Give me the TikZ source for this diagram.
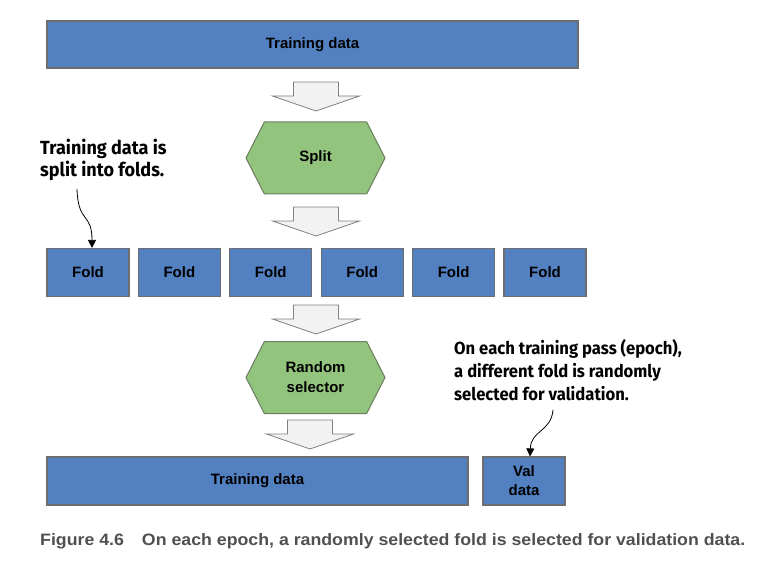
\documentclass[tikz,border=0pt]{standalone}
\usepackage{fontspec}
\setmainfont{Liberation Sans}
\newfontfamily\notefont{Fira Sans}[FakeStretch=0.95]
\newfontfamily\capfont{Liberation Sans}[FakeStretch=1.075]
\usetikzlibrary{shapes.symbols,arrows.meta}

\definecolor{boxblue}{RGB}{82,128,192}
\definecolor{boxedge}{RGB}{110,110,110}
\definecolor{hexgreen}{RGB}{147,196,125}
\definecolor{hexedge}{RGB}{105,125,95}
\definecolor{arrowgrey}{RGB}{242,242,242}
\definecolor{captiongrey}{RGB}{80,80,80}

% grey block arrow pointing down, #1 = coordinate at the centre of the shaft top
\newcommand{\downblock}[1]{%
  \draw[blockarrow] ([xshift=-22.5pt]#1) -- ++(0,14) -- ++(-21,0) -- ++(43.5,15)
    -- ++(43.5,-15) -- ++(-21,0) -- ++(0,-14) -- cycle;}

\begin{document}
\begin{tikzpicture}[x=1pt, y=-1pt,
  box/.style = {draw=boxedge, line width=1.2pt, fill=boxblue, inner sep=0pt,
    minimum height=48pt, align=center, font=\bfseries\fontsize{15}{19}\selectfont},
  hexa/.style = {shape=signal, signal to=east and west, signal pointer angle=126,
    draw=hexedge, line width=1pt, fill=hexgreen, inner sep=0pt,
    minimum width=139pt, minimum height=72pt, align=center,
    font=\bfseries\fontsize{15}{20}\selectfont},
  blockarrow/.style = {draw=gray, fill=arrowgrey, line width=0.8pt},
  note/.style = {inner sep=0pt, align=left,
    font=\notefont\bfseries\fontsize{19}{21.5}\selectfont},
  pointer/.style = {-{Triangle[length=8pt,width=8pt]}, line width=0.8pt}]
  \useasboundingbox (0,0) rectangle (760,572);

  % main flow
  \node[box, minimum width=531pt, minimum height=47pt] (train) at (312.5,44.5) {Training data};
  \coordinate (a1) at (316,82); \downblock{a1}
  \node[hexa] (split) at (315.5,158) {Split};
  \coordinate (a2) at (316,207); \downblock{a2}
  \foreach \i in {1,...,6}
    \node[box, minimum width=82pt] (fold\i) at ({88+91.4*(\i-1)},272.5) {Fold};
  \coordinate (a3) at (316,305); \downblock{a3}
  \node[hexa] (select) at (315.5,377.5) {Random\\selector};
  \coordinate (a4) at (310,420); \downblock{a4}
  \node[box, minimum width=421pt] (rest) at (257.5,481) {Training data};
  \node[box, minimum width=82pt] (val) at (524,481) {Val\\data};

  % call-outs
  \node[note, anchor=north west] (note1) at (40,139) {Training data is\\split into folds.};
  \coordinate (n1) at (77,189);
  \draw[pointer] (n1) .. controls (78,224) and (92,212) .. ([xshift=4pt]fold1.north);
  \node[note, anchor=north west, font=\notefont\bfseries\fontsize{17.5}{23}\selectfont]
    (note2) at (454,339) {On each training pass (epoch),\\a different fold is randomly\\selected for validation.};
  \coordinate (n2) at (553,410);
  \draw[pointer] (n2) .. controls (551,432) and (531,430) .. ([xshift=6pt]val.north);

  \node[anchor=base west, inner sep=0pt, text=captiongrey,
    font=\capfont\bfseries\fontsize{16.5}{19}\selectfont] (caption) at (40,545)
    {Figure 4.6\hspace{18pt}On each epoch, a randomly selected fold is selected for validation data.};
\end{tikzpicture}
\end{document}
